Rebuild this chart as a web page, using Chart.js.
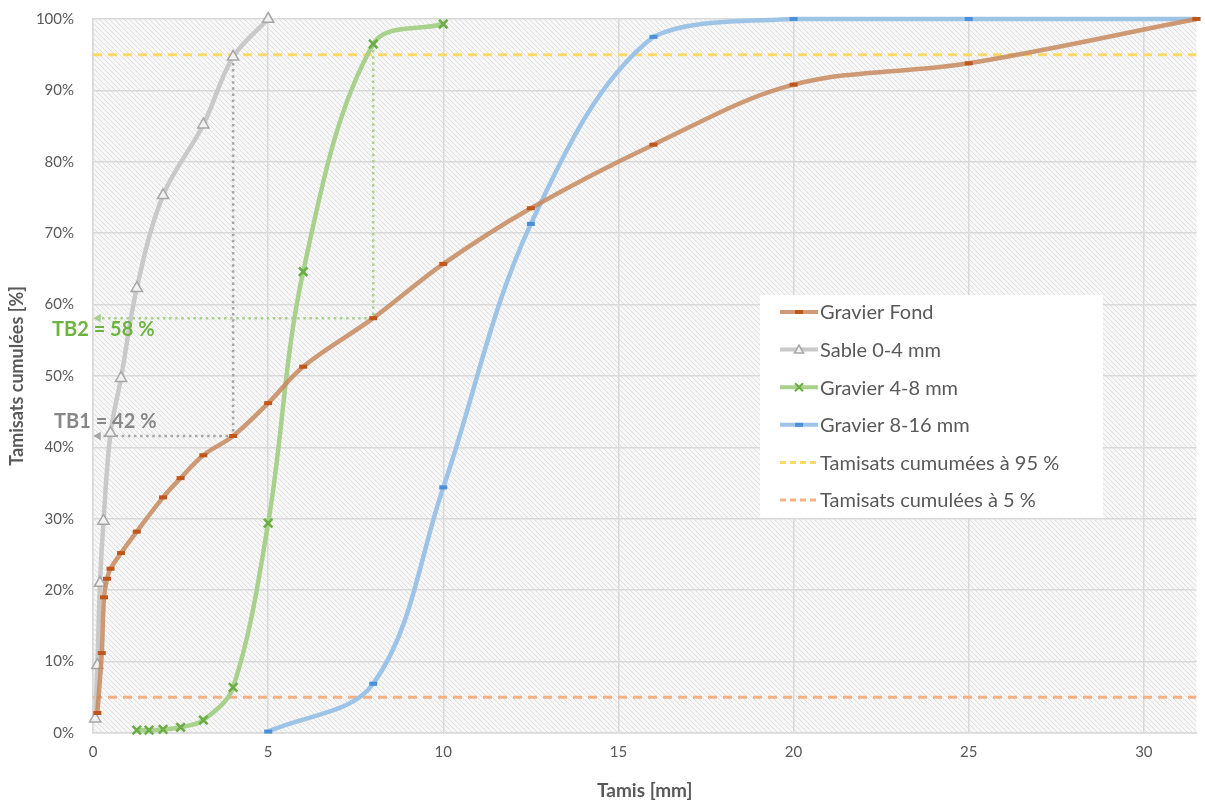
<!DOCTYPE html>
<html><head><meta charset="utf-8">
<script src="https://cdn.jsdelivr.net/npm/chart.js@4"></script>
<style>html,body{margin:0;padding:0;background:#fff;}canvas{display:block;}</style>
</head><body>
<canvas id="c" width="1205" height="803"></canvas>
<script>
const xTicksMax = 31.5;
const gfX = [0.125,0.25,0.315,0.4,0.5,0.8,1.25,2,2.5,3.15,4,5,6,8,10,12.5,16,20,25,31.5];
const gfY = [2.8,11.2,19,21.6,23,25.2,28.2,33,35.7,38.9,41.6,46.2,51.3,58.1,65.7,73.5,82.4,90.8,93.8,100];
const sX = [0.063,0.125,0.2,0.3,0.5,0.8,1.25,2,3.15,4,5];
const sY = [2,9.5,21,29.7,42,49.7,62.3,75.3,85.2,94.7,100];
const g48X = [1.25,1.6,2,2.5,3.15,4,5,6,8,10];
const g48Y = [0.4,0.4,0.5,0.8,1.8,6.4,29.4,64.6,96.5,99.3];
const g816X = [5,8,10,12.5,16,20,25,31.5];
const g816Y = [0.2,6.9,34.4,71.3,97.5,100,100,100];
const refX = [0,31.5];
const ref95 = [95,95];
const ref5 = [5,5];
const tb1X = [4,4,0.15];
const tb1Y = [94.7,41.6,41.6];
const tb2X = [8,8,0.15];
const tb2Y = [96.5,58.1,58.1];
const tbLabels = ['TB1 = 42 %','TB2 = 58 %'];
const seriesNames = ['Gravier Fond','Sable 0-4 mm','Gravier 4-8 mm','Gravier 8-16 mm','Tamisats cumumées à 95 %','Tamisats cumulées à 5 %'];

const pts = (xs, ys) => xs.map((x,i)=>({x:x, y:ys[i]}));
const FONT = 'Lato';
const TXT = '#595959';

function hatch(){
  const c=document.createElement('canvas'); c.width=c.height=5;
  const g=c.getContext('2d');
  g.fillStyle='#F7F7F7'; g.fillRect(0,0,5,5);
  g.strokeStyle='#E0E0E0'; g.lineWidth=1;
  g.beginPath();
  g.moveTo(-1,-1); g.lineTo(6,6);
  g.moveTo(4,-1); g.lineTo(6,1);
  g.moveTo(-1,4); g.lineTo(1,6);
  g.stroke();
  return c;
}
const tile = hatch();

const C = {
  gf:{line:'rgba(197,137,94,0.85)', mk:'#C0561A'},
  s:{line:'#C9C9C9', mk:'#A6A6A6'},
  g48:{line:'#A9D18E', mk:'#6AAE45'},
  g816:{line:'#9DC3E6', mk:'#4A90D9'},
  y:'#FFD966', o:'#F4B183'
};

const bgPlugin = {
  id:'bg',
  beforeDraw(chart){
    const {ctx, chartArea:a} = chart;
    ctx.save();
    ctx.fillStyle = ctx.createPattern(tile,'repeat');
    ctx.fillRect(a.left, a.top, a.right-a.left, a.bottom-a.top);
    ctx.restore();
  }
};

function drawMarker(ctx, kind, x, y, color){
  ctx.save();
  if(kind==='dash'){ ctx.fillStyle=color; ctx.fillRect(x-4,y-2,8,4); }
  else if(kind==='tri'){
    ctx.fillStyle='#F2F2F2'; ctx.strokeStyle=color; ctx.lineWidth=1.5;
    ctx.beginPath(); ctx.moveTo(x,y-4.5); ctx.lineTo(x+4.5,y+3.5); ctx.lineTo(x-4.5,y+3.5); ctx.closePath(); ctx.fill(); ctx.stroke();
  } else if(kind==='x'){
    ctx.strokeStyle=color; ctx.lineWidth=2;
    ctx.beginPath(); ctx.moveTo(x-4,y-4); ctx.lineTo(x+4,y+4); ctx.moveTo(x+4,y-4); ctx.lineTo(x-4,y+4); ctx.stroke();
  }
  ctx.restore();
}

const overlayPlugin = {
  id:'overlay',
  afterDatasetsDraw(chart){
    const {ctx} = chart;
    const ys = chart.scales.y;
    ctx.save();
    ctx.font = 'bold 20px '+FONT;
    ctx.textBaseline='middle'; ctx.textAlign='left';
    ctx.fillStyle = '#878787';
    ctx.fillText(tbLabels[0], 54, ys.getPixelForValue(tb1Y[2]) - 14);
    ctx.fillStyle = '#6DB33F';
    ctx.fillText(tbLabels[1], 52, ys.getPixelForValue(tb2Y[2]) + 11);

    // legend
    const L = {x:760, y:295, w:343, h:223};
    ctx.fillStyle='#FFFFFF';
    ctx.fillRect(L.x, L.y, L.w, L.h);
    const rows = [
      {c:C.gf.line, mk:'dash', mc:C.gf.mk, dash:[]},
      {c:C.s.line, mk:'tri', mc:C.s.mk, dash:[]},
      {c:C.g48.line, mk:'x', mc:C.g48.mk, dash:[]},
      {c:C.g816.line, mk:'dash', mc:C.g816.mk, dash:[]},
      {c:C.y, mk:null, dash:[6,4]},
      {c:C.o, mk:null, dash:[6,4]}
    ];
    ctx.font = '20px '+FONT;
    rows.forEach((r,i)=>{
      const yy = 312 + i*37.6;
      ctx.save();
      ctx.strokeStyle = r.c; ctx.lineWidth = r.mk? 4:3; ctx.setLineDash(r.dash);
      ctx.beginPath(); ctx.moveTo(780,yy); ctx.lineTo(818,yy); ctx.stroke();
      ctx.restore();
      if(r.mk) drawMarker(ctx, r.mk, 799, yy, r.mc);
      ctx.fillStyle = TXT;
      ctx.fillText(seriesNames[i], 820, yy+1);
    });
    ctx.restore();
  }
};

const mainLine = (label, xs, ys, col, style, extra) => Object.assign({
  label, data: pts(xs, ys), showLine:true, tension:0.35,
  borderColor: col.line, borderWidth:4.5,
  pointStyle: style, pointRadius:4, pointBorderColor: col.mk, pointBackgroundColor: col.mk,
  pointBorderWidth:4, clip:false, order:0
}, extra||{});

const refLine = (label, ys, col) => ({
  label, data: pts(refX, ys), showLine:true, borderColor:col, borderWidth:3,
  borderDash:[9,6], pointRadius:0, order:2
});
const guide = (xs, ys, col) => ({
  label:'', data: pts(xs, ys), showLine:true, tension:0, borderColor:col, borderWidth:2.5,
  borderDash:[2.5,3.6], pointRadius:[0,0,5], pointStyle:'triangle', pointRotation:[0,0,-90],
  pointBackgroundColor:col, pointBorderColor:col, pointBorderWidth:0, order:1, clip:false
});

new Chart(document.getElementById('c'), {
  type:'scatter',
  data:{ datasets:[
    mainLine(seriesNames[0], gfX, gfY, C.gf, 'line'),
    mainLine(seriesNames[1], sX, sY, C.s, 'triangle', {pointRadius:6.5, pointBorderWidth:1.5, pointBackgroundColor:'#F2F2F2'}),
    mainLine(seriesNames[2], g48X, g48Y, C.g48, 'crossRot', {pointRadius:6, pointBorderWidth:2.6}),
    mainLine(seriesNames[3], g816X, g816Y, C.g816, 'line'),
    refLine(seriesNames[4], ref95, C.y),
    refLine(seriesNames[5], ref5, C.o),
    guide(tb1X, tb1Y, '#A6A6A6'),
    guide(tb2X, tb2Y, '#A9D18E')
  ]},
  options:{
    responsive:false, devicePixelRatio:1, animation:false, events:[],
    layout:{padding:{top:19, right:6, left:0, bottom:0}},
    plugins:{legend:{display:false}, tooltip:{enabled:false}},
    scales:{
      x:{type:'linear', min:0, max:xTicksMax,
        afterFit(s){ s.height = 70; s.paddingLeft = 0; s.paddingRight = 0; },
        grid:{color:'#D9D9D9', lineWidth:1.5, drawTicks:false},
        border:{color:'#D9D9D9', width:1.5},
        ticks:{stepSize:5, includeBounds:false, padding:10, color:TXT, font:{family:FONT, size:15}},
        title:{display:true, text:'Tamis [mm]', color:TXT, font:{family:FONT, size:19, weight:'bold'}, padding:{top:0, bottom:1}}
      },
      y:{type:'linear', min:0, max:100,
        afterFit(s){ s.width = 93; s.paddingTop = 0; s.paddingBottom = 0; },
        grid:{color:'#D9D9D9', lineWidth:1.5, drawTicks:false},
        border:{color:'#D9D9D9', width:1.5},
        ticks:{stepSize:10, padding:19, color:TXT, font:{family:FONT, size:15}, callback:(v)=>v+'%'},
        title:{display:true, text:'Tamisats cumulées [%]', color:TXT, font:{family:FONT, size:18, weight:'bold'}, padding:{top:6, bottom:0}}
      }
    }
  },
  plugins:[bgPlugin, overlayPlugin]
});
</script>
</body></html>
